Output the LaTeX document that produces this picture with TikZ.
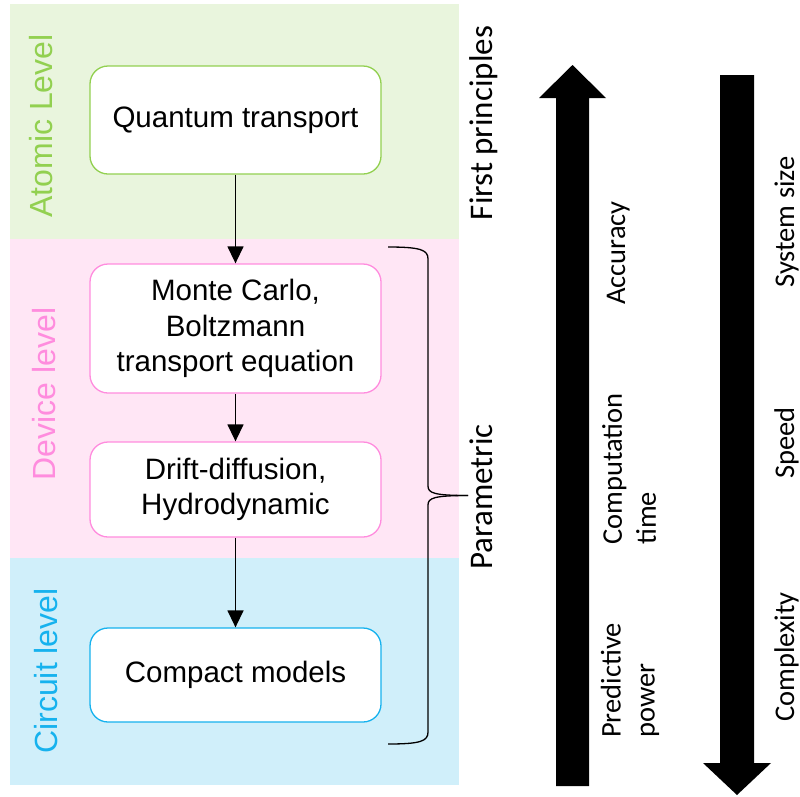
\documentclass[tikz,border=0pt]{standalone}
\usepackage{fontspec}
\setmainfont{Liberation Sans}
\newfontfamily\calibfont{Carlito}
\usetikzlibrary{positioning,arrows.meta}
\definecolor{atomfill}{RGB}{233,245,221}
\definecolor{atomline}{RGB}{146,208,80}
\definecolor{devfill}{RGB}{255,230,245}
\definecolor{devline}{RGB}{255,140,222}
\definecolor{circfill}{RGB}{208,239,250}
\definecolor{circline}{RGB}{22,178,238}
\tikzset{
  >={Triangle[width=16pt,length=17pt]},
  procbox/.style={draw,rounded corners=18pt,fill=white,line width=1.3pt,
    minimum width=291pt,align=center,inner sep=0pt,
    font=\fontsize{29.5}{35.5}\selectfont},
  flow/.style={->,line width=1.4pt},
  lvllbl/.style={rotate=90,anchor=base,inner sep=0pt,
    font=\fontsize{32}{38}\selectfont},
  sidelbl/.style={rotate=90,inner sep=0pt,
    font=\calibfont\fontsize{28.5}{34}\selectfont},
  biglbl/.style={sidelbl,anchor=base,font=\calibfont\fontsize{33}{40}\selectfont},
  bracepath/.style={line width=1.3pt},
}
\begin{document}
\begin{tikzpicture}[x=1pt,y=-1pt]
  \useasboundingbox (0,0) rectangle (800,796);
  \foreach \t/\b/\c in {4/239/atomfill,239/558/devfill,558/785/circfill}
    \fill[\c] (10,\t) rectangle (459,\b);
  \node[lvllbl,text=atomline] (atomlbl) at (52,126) {Atomic Level};
  \node[lvllbl,text=devline] (devlbl) at (55,394) {Device level};
  \node[lvllbl,text=circline] (circlbl) at (57,671) {Circuit level};
  \node[procbox,draw=atomline,minimum height=108pt] (qt) at (235.5,120) {Quantum transport};
  \node[procbox,draw=devline,minimum height=129pt] (mc) at (235.5,328.5)
    {Monte Carlo,\\Boltzmann\\transport equation};
  \node[procbox,draw=devline,minimum height=95pt] (dd) at (235.5,489.5)
    {Drift-diffusion,\\Hydrodynamic};
  \node[procbox,draw=circline,minimum height=94pt] (cm) at (235.5,675) {Compact models};
  \foreach \a/\b in {qt/mc,mc/dd,dd/cm}
    \draw[flow] (\a) -- (\b);
  \coordinate (bracetip) at (468,495.5);
  \draw[bracepath] (388,247) .. controls (421,247) and (428,250) .. (428,259)
    -- (428,486) .. controls (428,493) and (434,495.5) .. (bracetip);
  \draw[bracepath] (388,744) .. controls (421,744) and (428,741) .. (428,732)
    -- (428,505) .. controls (428,498) and (434,495.5) .. (bracetip);
  \node[biglbl] (fp) at (492,123) {First principles};
  \node[biglbl] (par) at (492,497) {Parametric};
  \fill (556,786) -- (556,98) -- (539,98) -- (572.5,65) -- (606,98) -- (589,98)
    -- (589,786) -- cycle;
  \fill (720,75) -- (720,763) -- (703,763) -- (737,795) -- (771,763) -- (754,763)
    -- (754,75) -- cycle;
  \node[sidelbl,anchor=base] (acc) at (625,253) {Accuracy};
  \node[sidelbl,align=left,anchor=west] (ct) at (629,545) {Computation\\time};
  \node[sidelbl,align=left,anchor=west] (pp) at (630,738) {Predictive\\power};
  \node[sidelbl,anchor=base] (ss) at (794,222) {System size};
  \node[sidelbl,anchor=base] (sp) at (794,443) {Speed};
  \node[sidelbl,anchor=base] (cx) at (794,657) {Complexity};
\end{tikzpicture}
\end{document}
